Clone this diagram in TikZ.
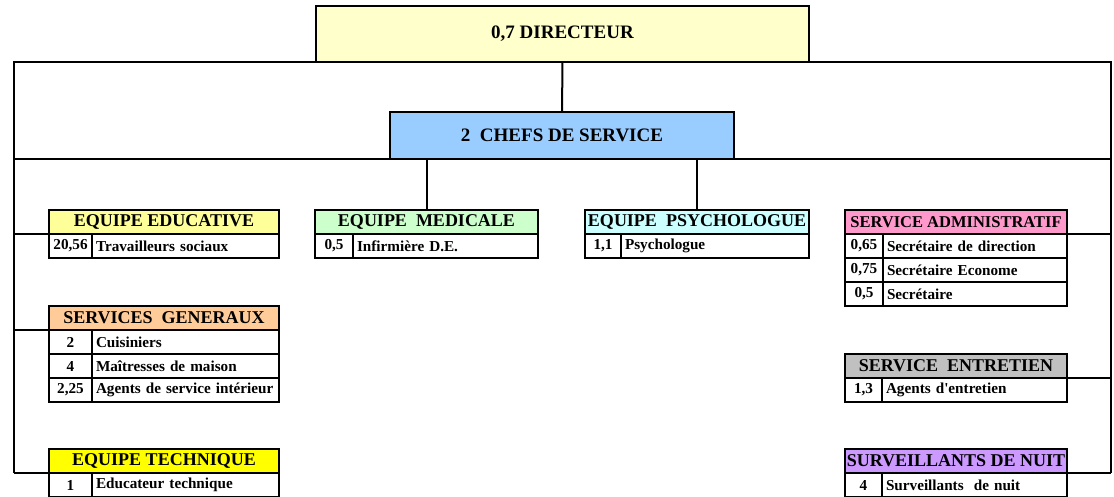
\documentclass[tikz,border=0pt]{standalone}
\usepackage{fontspec}
\setmainfont{Liberation Serif}
\usepackage{tikz}
\usetikzlibrary{positioning}
\definecolor{jaunedir}{HTML}{FFFFCC}
\definecolor{bleuchef}{HTML}{99CCFF}
\definecolor{jauneeduc}{HTML}{FFFF99}
\definecolor{vertmed}{HTML}{CCFFCC}
\definecolor{cyanpsy}{HTML}{CCFFFF}
\definecolor{roseadm}{HTML}{FF99CC}
\definecolor{orangegen}{HTML}{FFCC99}
\definecolor{grisent}{HTML}{C0C0C0}
\definecolor{jaunetech}{HTML}{FFFF00}
\definecolor{violetnuit}{HTML}{CC99FF}

\begin{document}
\begin{tikzpicture}[x=1pt, y=-1pt]
\tikzstyle{cadre}=[rectangle, draw=black, line width=1.8pt, outer sep=0pt, inner sep=0pt]
\tikzstyle{chef}=[cadre, anchor=north west, font=\fontsize{19}{19}\selectfont\bfseries]
\tikzstyle{titre}=[cadre, anchor=north west, minimum height=24pt, font=\fontsize{18}{18}\selectfont\bfseries]
\tikzstyle{nb}=[cadre, anchor=north west, fill=white, minimum height=24pt, font=\fontsize{15.2}{15.2}\selectfont\bfseries]
\tikzstyle{lib}=[nb, inner xsep=4pt, align=left]
\tikzstyle{lien}=[line width=2pt]

  \useasboundingbox (0,0) rectangle (1114,497);

  \node[chef, fill=jaunedir, minimum width=493pt, minimum height=56pt] (dir) at (316,6) {0,7 DIRECTEUR};
  \node[chef, fill=bleuchef, minimum width=344pt, minimum height=47pt] (chefs) at (390,112) {2\ \ CHEFS DE SERVICE};

  % colonne de gauche
  \node[titre, fill=jauneeduc, minimum width=230pt] (educ) at (49,210) {EQUIPE EDUCATIVE};
  \node[nb, minimum width=43pt] (educ-n1) at (educ.south west) {20,56};
  \node[lib, text width=179pt] (educ-l1) at (educ-n1.north east) {Travailleurs sociaux};

  \node[titre, fill=orangegen, minimum width=230pt] (gen) at (49,306) {SERVICES\ \ GENERAUX};
  \node[nb, minimum width=43pt] (gen-n1) at (gen.south west) {2};
  \node[lib, text width=179pt] (gen-l1) at (gen-n1.north east) {Cuisiniers};
  \node[nb, minimum width=43pt] (gen-n2) at (gen-n1.south west) {4};
  \node[lib, text width=179pt] (gen-l2) at (gen-n2.north east) {Maîtresses de maison};
  \node[nb, minimum width=43pt] (gen-n3) at (gen-n2.south west) {2,25};
  \node[lib, text width=179pt] (gen-l3) at (gen-n3.north east) {Agents de service intérieur};

  \node[titre, fill=jaunetech, minimum width=230pt] (tech) at (49,449) {EQUIPE TECHNIQUE};
  \node[nb, minimum width=43pt] (tech-n1) at (tech.south west) {1};
  \node[lib, text width=179pt] (tech-l1) at (tech-n1.north east) {Educateur technique};

  % centre
  \node[titre, fill=vertmed, minimum width=223pt] (med) at (315,210) {EQUIPE\ \ MEDICALE};
  \node[nb, minimum width=38pt] (med-n1) at (med.south west) {0,5};
  \node[lib, text width=177pt] (med-l1) at (med-n1.north east) {Infirmière D.E.};

  \node[titre, fill=cyanpsy, minimum width=224pt] (psy) at (585,210) {EQUIPE\ \ PSYCHOLOGUE};
  \node[nb, minimum width=36pt] (psy-n1) at (psy.south west) {1,1};
  \node[lib, text width=180pt] (psy-l1) at (psy-n1.north east) {Psychologue};

  % colonne de droite
  \node[titre, fill=roseadm, minimum width=222pt, font=\fontsize{16.5}{16.5}\selectfont\bfseries] (adm) at (845,210) {SERVICE ADMINISTRATIF};
  \node[nb, minimum width=38pt] (adm-n1) at (adm.south west) {0,65};
  \node[lib, text width=176pt] (adm-l1) at (adm-n1.north east) {Secrétaire de direction};
  \node[nb, minimum width=38pt] (adm-n2) at (adm-n1.south west) {0,75};
  \node[lib, text width=176pt] (adm-l2) at (adm-n2.north east) {Secrétaire Econome};
  \node[nb, minimum width=38pt] (adm-n3) at (adm-n2.south west) {0,5};
  \node[lib, text width=176pt] (adm-l3) at (adm-n3.north east) {Secrétaire};

  \node[titre, fill=grisent, minimum width=222pt] (ent) at (845,354) {SERVICE\ \ ENTRETIEN};
  \node[nb, minimum width=37pt] (ent-n1) at (ent.south west) {1,3};
  \node[lib, text width=177pt] (ent-l1) at (ent-n1.north east) {Agents d\textquotesingle entretien};

  \node[titre, fill=violetnuit, minimum width=222pt] (nuit) at (845,449) {SURVEILLANTS DE NUIT};
  \node[nb, minimum width=37pt] (nuit-n1) at (nuit.south west) {4};
  \node[lib, text width=177pt] (nuit-l1) at (nuit-n1.north east) {Surveillants\ \ de nuit};

  % liaisons
  \coordinate (hg) at (13.5,62);
  \coordinate (hd) at (1111,62);
  \coordinate (bg) at (13.5,473);
  \coordinate (bd) at (1111,473);
  \coordinate (mg) at (13.5,159);
  \coordinate (md) at (1111,159);

  \draw[lien] (bg) -- (hg) -- (hd) -- (bd);
  \draw[lien] (mg) -- (md);
  \draw[lien] (dir.south) -- (chefs.north);
  \draw[lien] (med.north |- chefs.south) -- (med.north);
  \draw[lien] (psy.north |- chefs.south) -- (psy.north);
  \draw[lien] (educ.south west) -- (educ.south west -| hg);
  \draw[lien] (gen.south west) -- (gen.south west -| hg);
  \draw[lien] (tech.south west) -- (bg);
  \draw[lien] (adm.south east) -- (adm.south east -| hd);
  \draw[lien] (ent.south east) -- (ent.south east -| hd);
  \draw[lien] (nuit.south east) -- (bd);

\end{tikzpicture}
\end{document}
